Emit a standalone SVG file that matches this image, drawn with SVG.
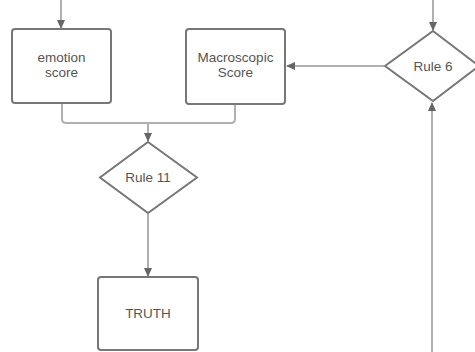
<svg xmlns="http://www.w3.org/2000/svg" width="475" height="352" viewBox="0 0 475 352">
<style>
.box{fill:#fff;stroke:#777;stroke-width:2}
.lbl{font-family:"Liberation Sans",Arial,sans-serif;font-size:13.5px;fill:#555;text-anchor:middle}
.ln{fill:none;stroke:#b0b0b0;stroke-width:2}
</style>
<defs>
<marker id="ah" markerWidth="10" markerHeight="10" refX="8" refY="5" orient="auto" markerUnits="userSpaceOnUse">
<path d="M0,1 L9,5 L0,9 Z" fill="#666"/>
</marker>
</defs>
<rect width="475" height="352" fill="#fff"/>
<g id="connectors">
<path class="ln" d="M61,0 V28" marker-end="url(#ah)"/>
<path class="ln" d="M433,0 V30" marker-end="url(#ah)"/>
<path class="ln" d="M384,66 H287" marker-end="url(#ah)"/>
<path class="ln" d="M432,352 V103" marker-end="url(#ah)"/>
<path class="ln" d="M62,104 V119 Q62,123 66,123 H231 Q235,123 235,119 V105"/>
<path class="ln" d="M148,123 V141" marker-end="url(#ah)"/>
<path class="ln" d="M148,214 V276" marker-end="url(#ah)"/>
</g>
<g id="emotion">
<rect class="box" x="12" y="29" width="99" height="74" rx="3"/>
<text class="lbl" x="61.5" y="62">emotion</text>
<text class="lbl" x="61.5" y="77">score</text>
</g>
<g id="macro">
<rect class="box" x="186" y="29" width="99" height="75" rx="3"/>
<text class="lbl" x="235.5" y="62">Macroscopic</text>
<text class="lbl" x="235.5" y="77">Score</text>
</g>
<g id="rule6">
<path class="box" d="M433,31 L479,66 L433,101 L385,66 Z"/>
<text class="lbl" x="433" y="71">Rule 6</text>
</g>
<g id="rule11">
<path class="box" d="M148,142 L197,177.5 L148,213 L100,177.5 Z"/>
<text class="lbl" x="148" y="182">Rule 11</text>
</g>
<g id="truth">
<rect class="box" x="98" y="277" width="100" height="73" rx="3"/>
<text class="lbl" x="148" y="318">TRUTH</text>
</g>
</svg>
